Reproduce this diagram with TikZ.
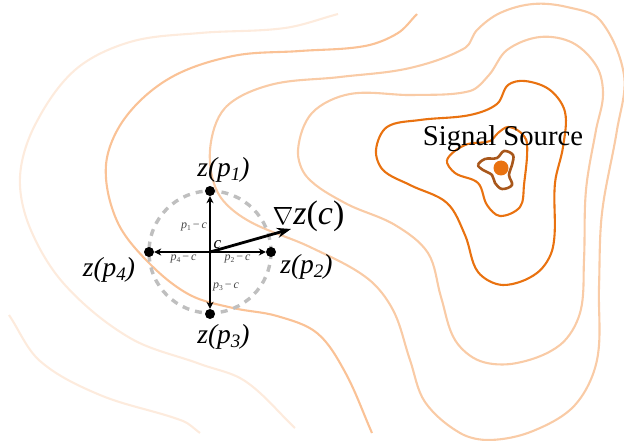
\documentclass[tikz,border=0pt]{standalone}
\usepackage{fontspec}
\setmainfont{Liberation Serif}
\usetikzlibrary{arrows.meta}
\definecolor{cdark}{HTML}{A8571B}
\definecolor{cmain}{HTML}{E97210}
\definecolor{clight}{HTML}{F9CBA6}
\definecolor{cmid}{HTML}{FAC296}
\definecolor{cfaint}{HTML}{FDEBDD}
\definecolor{cgrey}{HTML}{BFBFBF}
\definecolor{ctext}{HTML}{444444}
\newcommand{\zlabel}[1]{\fontsize{27.5}{28}\selectfont\textit{z(p}\raisebox{-3.5pt}{\fontsize{19}{19}\selectfont\textit{#1}}\textit{)}}
\newcommand{\dlabel}[1]{\fontsize{12}{12}\selectfont\textit{p}\raisebox{-2pt}{\fontsize{7.5}{7.5}\selectfont #1}\,−\,\textit{c}}
% chord-length Catmull-Rom spline through a list of points: closed flag (1/0), point list
\newcommand{\buildspline}[2]{%
  \foreach \x/\y [count=\n] in {#2}{%
    \expandafter\xdef\csname px\n\endcsname{\x}%
    \expandafter\xdef\csname py\n\endcsname{\y}%
    \xdef\npts{\n}}%
  \foreach \i in {1,...,\npts}{%
    \pgfmathtruncatemacro{\ip}{\i>1 ? \i-1 : (#1==1 ? \npts : 1)}%
    \pgfmathtruncatemacro{\in}{\i<\npts ? \i+1 : (#1==1 ? 1 : \npts)}%
    \pgfmathsetmacro{\dp}{veclen(\csname px\i\endcsname-\csname px\ip\endcsname,\csname py\i\endcsname-\csname py\ip\endcsname)}%
    \pgfmathsetmacro{\dn}{veclen(\csname px\in\endcsname-\csname px\i\endcsname,\csname py\in\endcsname-\csname py\i\endcsname)}%
    \pgfmathsetmacro{\tx}{(\csname px\in\endcsname-\csname px\ip\endcsname)/(\dp+\dn)}%
    \pgfmathsetmacro{\ty}{(\csname py\in\endcsname-\csname py\ip\endcsname)/(\dp+\dn)}%
    \expandafter\xdef\csname tx\i\endcsname{\tx}%
    \expandafter\xdef\csname ty\i\endcsname{\ty}}%
  \xdef\pth{(\csname px1\endcsname,\csname py1\endcsname)}%
  \pgfmathtruncatemacro{\nseg}{#1==1 ? \npts : \npts-1}%
  \foreach \i in {1,...,\nseg}{%
    \pgfmathtruncatemacro{\j}{\i<\npts ? \i+1 : 1}%
    \pgfmathsetmacro{\dd}{veclen(\csname px\j\endcsname-\csname px\i\endcsname,\csname py\j\endcsname-\csname py\i\endcsname)/3}%
    \pgfmathsetmacro{\ax}{\csname px\i\endcsname+\csname tx\i\endcsname*\dd}%
    \pgfmathsetmacro{\ay}{\csname py\i\endcsname+\csname ty\i\endcsname*\dd}%
    \pgfmathsetmacro{\bx}{\csname px\j\endcsname-\csname tx\j\endcsname*\dd}%
    \pgfmathsetmacro{\by}{\csname py\j\endcsname-\csname ty\j\endcsname*\dd}%
    \xdef\pth{\pth .. controls (\ax,\ay) and (\bx,\by) .. (\csname px\j\endcsname,\csname py\j\endcsname)}}%
}
\newcommand{\contourline}[3]{\buildspline{#2}{#3}\edef\tmp{\noexpand\draw[contour,#1] \pth;}\tmp}
\tikzset{
  contour/.style={line width=2.1pt,line join=round},
  pointdot/.style={circle,fill=black,inner sep=0pt,minimum size=10pt},
  zlab/.style={inner sep=0pt,text=black},
  dlab/.style={inner sep=0pt,text=ctext},
  diff/.style={line width=1.5pt,-{Stealth[length=7pt,width=7pt]}},
}
\begin{document}
\begin{tikzpicture}[x=1pt,y=-1pt]
\useasboundingbox (0,0) rectangle (624,441);
% contours
\contourline{cfaint}{0}{338/14,285/28,200/33,130/42,75/70,35/125,20/177,30/228,65/285,130/338,200/364,245/381,295/428}
\contourline{cfaint}{0}{9/315,40/361,100/395,183/421,200/433}
\contourline{cmid}{0}{417/14,398/33,365/46,300/51,233/56,170/78,125/118,106/165,117/221,150/264,190/295,233/308,277/316,317/333,345/372,372/433}
\contourline{clight}{1}{465/48,410/68,340/77,270/85,225/108,210/150,218/193,247/220,310/247,367/278,393/310,410/360,425/402,460/433,490/440,533/431,575/405,597/360,599/287,602/213,617/130,624/75,600/20,567/7,533/4,500/13,477/30}
\contourline{clight}{1}{489/75,470/91,413/95,350/94,312/113,298/150,307/177,345/203,395/225,428/253,441/297,455/340,480/361,517/363,560/345,580/313,584/260,586/190,596/130,603/95,597/67,573/43,540/37,507/50}
\contourline{cmain}{1}{376/150,387/127,420/120,470/115,497/104,508/85,525/81,550/90,565/112,563/147,555/183,553/247,537/273,503/285,478/272,465/235,447/203,410/185,383/170}
\contourline{cmain}{1}{447/160,455/173,478/183,487/205,500/216,520/207,524/185,527/143,520/132,508/127,498/133,490/141,465/145}
\contourline{cdark,line width=2.6pt}{1}{478/165,485/159,497/158,504/151,513/155,512/165,509/175,512/185,502/189,495/183,492/175,483/170}
% source
\node[circle,fill=cmain,inner sep=0pt,minimum size=15pt] (src) at (501,168) {};
\node[inner sep=0pt,text=black] (srclab) at (503,139) {\fontsize{28.7}{29}\selectfont Signal Source};
% circle
\coordinate (c) at (210,252);
\draw[cgrey,line width=3.4pt,dash pattern=on 7pt off 6pt] (c) circle [radius=61];
\node[pointdot] (p1) at (210,191) {};
\node[pointdot] (p2) at (271,252) {};
\node[pointdot] (p3) at (210,314) {};
\node[pointdot] (p4) at (149,252) {};
\coordinate (g) at (291,229);
\draw[diff] (c) -- (p1);
\draw[diff] (c) -- (p2);
\draw[diff] (c) -- (p3);
\draw[diff] (c) -- (p4);
\draw[line width=2.8pt,-{Stealth[length=14pt,width=10pt]}] (c) -- (g);
% labels
\node[zlab] (l1) at (223.5,170) {\zlabel{1}};
\node[zlab] (l2) at (306.5,267) {\zlabel{2}};
\node[zlab] (l3) at (223.5,337) {\zlabel{3}};
\node[zlab] (l4) at (109,270) {\zlabel{4}};
\node[zlab] (grad) at (308.5,216) {\fontsize{34}{34}\selectfont$\nabla$\textit{z}(\textit{c})};
\node[zlab] (clab) at (217.5,245) {\fontsize{17}{17}\selectfont\textit{c}};
\node[dlab] (d1) at (194,227) {\dlabel{1}};
\node[dlab] (d2) at (237.5,259) {\dlabel{2}};
\node[dlab] (d3) at (226,287) {\dlabel{3}};
\node[dlab] (d4) at (183.5,259) {\dlabel{4}};
\end{tikzpicture}
\end{document}
